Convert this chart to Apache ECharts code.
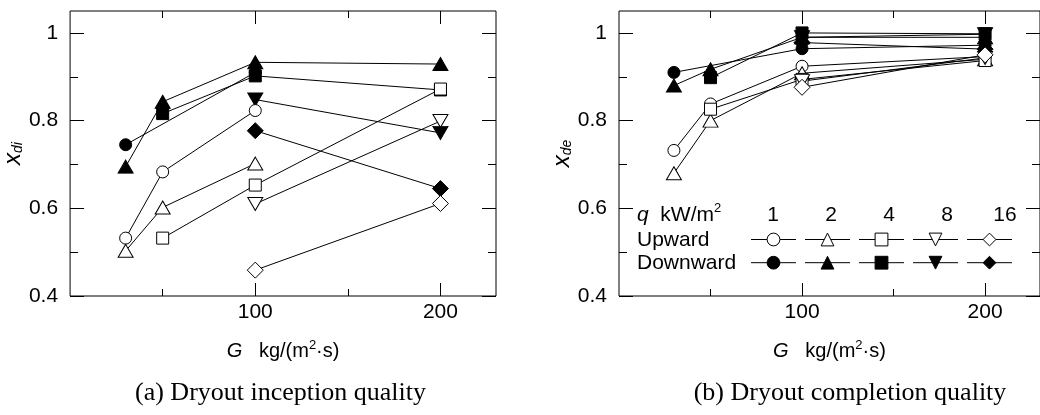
<!DOCTYPE html>
<html>
<head>
<meta charset="utf-8">
<script src="https://cdn.jsdelivr.net/npm/echarts@6/dist/echarts.min.js"></script>
<style>
  html, body { margin: 0; padding: 0; background: #fff; }
  #main { width: 1040px; height: 415px; }
</style>
</head>
<body>
<div id="main"></div>
<script>
// heat flux levels q (kW/m2), one series per level
const qLabels = ['1', '2', '4', '8', '16'];

// (a) dryout inception quality x_di, points are [G, x]
const diUp = [
  [[30, 0.532], [50, 0.683], [100, 0.823]],
  [[30, 0.503], [50, 0.602], [100, 0.702]],
  [[50, 0.532], [100, 0.653], [200, 0.872]],
  [[100, 0.610], [200, 0.799]],
  [[100, 0.459], [200, 0.611]]
];
const diDown = [
  [[30, 0.745], [100, 0.910]],
  [[30, 0.695], [50, 0.843], [100, 0.933], [200, 0.929]],
  [[50, 0.816], [100, 0.902], [200, 0.870]],
  [[100, 0.848], [200, 0.772]],
  [[100, 0.777], [200, 0.645]]
];

// (b) dryout completion quality x_de
const deUp = [
  [[30, 0.732], [50, 0.838], [100, 0.924], [200, 0.946]],
  [[30, 0.680], [50, 0.800], [100, 0.908], [200, 0.940]],
  [[50, 0.826], [100, 0.894], [200, 0.937]],
  [[100, 0.890], [200, 0.943]],
  [[100, 0.876], [200, 0.950]]
];
const deDown = [
  [[30, 0.910], [100, 0.964], [200, 0.972]],
  [[30, 0.880], [50, 0.917], [100, 0.990], [200, 0.990]],
  [[50, 0.898], [100, 1.000], [200, 0.998]],
  [[100, 0.990], [200, 0.997]],
  [[100, 0.978], [200, 0.963]]
];

const xMajor = [100, 200], xMinor = [50, 150];
const yMajor = [0.4, 0.6, 0.8, 1], yMinor = [0.5, 0.7, 0.9];

const SANS = 'Liberation Sans, Arial, sans-serif';
const SERIF = 'Liberation Serif, Times New Roman, serif';
const symbols = ['circle', 'triangle', 'rect', 'path://M0,0L20,0L10,17Z', 'diamond'];
const symbolSizes = [12, [15, 13], 12, [15, 13], 16];

const grids = [
  { left: 64, top: 11, width: 432, height: 285 },
  { left: 619, top: 11, width: 432, height: 285 }
];

function xAxes(g) {
  const base = { gridIndex: g, type: 'value', min: 0, max: 230,
    axisLine: { show: false, onZero: false }, splitLine: { show: false } };
  const tick = (vals, len) => ({ inside: true, length: len, customValues: vals,
    lineStyle: { color: '#000', width: 1 } });
  return [
    Object.assign({}, base, {
      position: 'bottom', axisTick: tick(xMajor, 13),
      axisLabel: { customValues: xMajor, fontSize: 21, color: '#000', fontFamily: SANS, margin: 6 },
      name: '{g|G}   kg/(m{sup|2}·s)', nameLocation: 'middle', nameGap: 43,
      nameTextStyle: { fontSize: 20, lineHeight: 24, color: '#000', fontFamily: SANS,
        rich: { g: { fontSize: 20, fontStyle: 'italic', fontFamily: SANS, color: '#000' },
                sup: { fontSize: 13, fontFamily: SANS, color: '#000', verticalAlign: 'top' } } }
    }),
    Object.assign({}, base, { position: 'bottom', axisTick: tick(xMinor, 7), axisLabel: { show: false } }),
    Object.assign({}, base, { position: 'top', axisTick: tick(xMajor, 13), axisLabel: { show: false } }),
    Object.assign({}, base, { position: 'top', axisTick: tick(xMinor, 7), axisLabel: { show: false } })
  ];
}

function yAxes(g, sub) {
  const base = { gridIndex: g, type: 'value', min: 0.4, max: 1.05,
    axisLine: { show: false, onZero: false }, splitLine: { show: false } };
  const tick = (vals, len) => ({ inside: true, length: len, customValues: vals,
    lineStyle: { color: '#000', width: 1 } });
  return [
    Object.assign({}, base, {
      position: 'left', axisTick: tick(yMajor, 14),
      axisLabel: { customValues: yMajor, fontSize: 21, color: '#000', fontFamily: SANS, margin: 12 },
      name: '{x|x}{s|' + sub + '}', nameLocation: 'middle', nameRotate: 90, nameGap: 32,
      nameTextStyle: { fontSize: 24, color: '#000', fontFamily: SANS,
        rich: { x: { fontSize: 24, fontStyle: 'italic', fontFamily: SANS, color: '#000' },
                s: { fontSize: 14, fontStyle: 'italic', fontFamily: SANS, color: '#000', verticalAlign: 'bottom' } } }
    }),
    Object.assign({}, base, { position: 'left', axisTick: tick(yMinor, 8), axisLabel: { show: false } }),
    Object.assign({}, base, { position: 'right', axisTick: tick(yMajor, 14), axisLabel: { show: false } }),
    Object.assign({}, base, { position: 'right', axisTick: tick(yMinor, 8), axisLabel: { show: false } })
  ];
}

function makeSeries(sets, filled, g) {
  return sets.map((pts, i) => ({
    name: (filled ? 'Downward ' : 'Upward ') + qLabels[i],
    type: 'line',
    xAxisIndex: g * 4,
    yAxisIndex: g * 4,
    data: pts,
    symbol: symbols[i],
    symbolSize: symbolSizes[i],
    showAllSymbol: true,
    lineStyle: { color: '#000', width: 1 },
    itemStyle: { color: filled ? '#000' : '#fff', borderColor: '#000', borderWidth: 1 },
    emphasis: { disabled: true },
    z: filled ? 3 : 4
  }));
}

// legend layout (icon line + marker, no text)
const legItemW = 45, legGap = 8, legLeft = 750.5;
const legStep = legItemW + 5 + legGap;
function makeLegend(prefix, top) {
  return {
    data: qLabels.map(q => prefix + q),
    left: legLeft, top: top, orient: 'horizontal', padding: 0,
    itemWidth: legItemW, itemHeight: 16, itemGap: legGap,
    selectedMode: false,
    formatter: () => '',
    lineStyle: { width: 1, color: '#000' },
    itemStyle: { borderWidth: 1, borderColor: '#000' },
    textStyle: { fontSize: 1 }
  };
}

const textStyle = (txt, extra) => Object.assign({
  text: txt, fontSize: 21, fontFamily: SANS, fill: '#000', verticalAlign: 'middle'
}, extra || {});

const graphics = [
  { type: 'text', x: 637, y: 215, style: textStyle('{q|q}  kW/m{sup|2}', {
      lineHeight: 26,
      rich: { q: { fontSize: 21, fontStyle: 'italic', fontFamily: SANS, fill: '#000' },
              sup: { fontSize: 13, fontFamily: SANS, fill: '#000', verticalAlign: 'top' } } }) },
  { type: 'text', x: 637, y: 240, style: textStyle('Upward') },
  { type: 'text', x: 637, y: 263, style: textStyle('Downward') },
  { type: 'text', x: 280.5, y: 393, style: { text: '(a) Dryout inception quality', fontSize: 26,
      fontFamily: SERIF, fill: '#000', align: 'center', verticalAlign: 'middle' } },
  { type: 'text', x: 850, y: 393, style: { text: '(b) Dryout completion quality', fontSize: 26,
      fontFamily: SERIF, fill: '#000', align: 'center', verticalAlign: 'middle' } }
].concat(qLabels.map((q, i) => ({
  type: 'text', x: legLeft + legItemW / 2 + i * legStep, y: 215,
  style: textStyle(q, { fontSize: 21, align: 'center' })
})));

const chart = echarts.init(document.getElementById('main'), null, { renderer: 'canvas' });
chart.setOption({
  animation: false,
  backgroundColor: '#fff',
  grid: grids.map(g => Object.assign({ show: true, borderColor: '#000', borderWidth: 1,
    backgroundColor: 'transparent', containLabel: false }, g)),
  xAxis: xAxes(0).concat(xAxes(1)),
  yAxis: yAxes(0, 'di').concat(yAxes(1, 'de')),
  legend: [makeLegend('Upward ', 231.5), makeLegend('Downward ', 254.7)],
  series: [].concat(
    makeSeries(diUp, false, 0), makeSeries(diDown, true, 0),
    makeSeries(deUp, false, 1), makeSeries(deDown, true, 1)
  ),
  graphic: graphics
});
</script>
</body>
</html>
